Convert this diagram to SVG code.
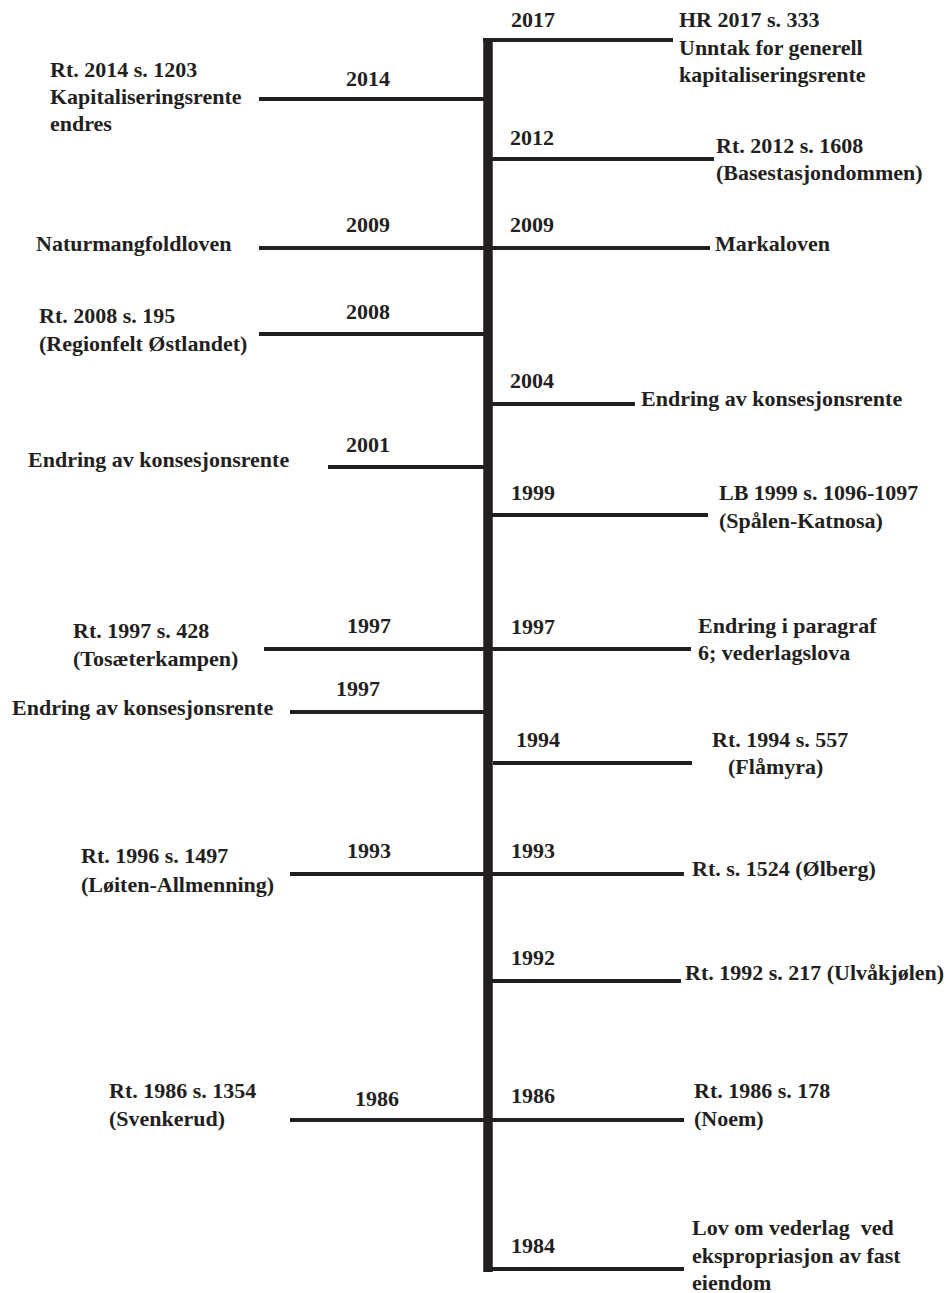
<svg xmlns="http://www.w3.org/2000/svg" width="952" height="1293" viewBox="0 0 952 1293">
<style>
text{font-family:"Liberation Serif","Times New Roman",serif;font-weight:bold;font-size:22px;fill:#231f20}
.h{stroke:#231f20;stroke-width:4;fill:none}
.spine{stroke:#231f20;stroke-width:9.5;fill:none}
</style>
<rect width="952" height="1293" fill="#fff"/>
<g id="connectors">
<line class="spine" x1="488" y1="38" x2="488" y2="1272"/>
<line class="h" x1="483" y1="40" x2="673" y2="40"/>
<line class="h" x1="259" y1="99" x2="488" y2="99"/>
<line class="h" x1="488" y1="159" x2="714" y2="159"/>
<line class="h" x1="259" y1="248" x2="710" y2="248"/>
<line class="h" x1="259" y1="334" x2="488" y2="334"/>
<line class="h" x1="488" y1="404" x2="635" y2="404"/>
<line class="h" x1="328" y1="467" x2="488" y2="467"/>
<line class="h" x1="488" y1="515" x2="708" y2="515"/>
<line class="h" x1="264" y1="649" x2="691" y2="649"/>
<line class="h" x1="290" y1="712" x2="488" y2="712"/>
<line class="h" x1="493" y1="763" x2="692" y2="763"/>
<line class="h" x1="290" y1="874" x2="684" y2="874"/>
<line class="h" x1="488" y1="981" x2="681" y2="981"/>
<line class="h" x1="290" y1="1120" x2="684" y2="1120"/>
<line class="h" x1="488" y1="1269" x2="684" y2="1269"/>
</g>
<g id="e2017"><text x="511" y="27">2017</text><text x="679" y="27">HR 2017 s. 333</text><text x="679" y="55">Unntak for generell</text><text x="679" y="82">kapitaliseringsrente</text></g>
<g id="e2014"><text x="346" y="86">2014</text><text x="50" y="77">Rt. 2014 s. 1203</text><text x="50" y="104">Kapitaliseringsrente</text><text x="50" y="131">endres</text></g>
<g id="e2012"><text x="510" y="145">2012</text><text x="716" y="153">Rt. 2012 s. 1608</text><text x="716" y="180">(Basestasjondommen)</text></g>
<g id="e2009a"><text x="346" y="232">2009</text><text x="36" y="251">Naturmangfoldloven</text></g>
<g id="e2009b"><text x="510" y="232">2009</text><text x="715" y="251">Markaloven</text></g>
<g id="e2008"><text x="346" y="319">2008</text><text x="39" y="323">Rt. 2008 s. 195</text><text x="39" y="351">(Regionfelt Østlandet)</text></g>
<g id="e2004"><text x="510" y="388">2004</text><text x="641" y="406">Endring av konsesjonsrente</text></g>
<g id="e2001"><text x="346" y="452">2001</text><text x="28" y="467">Endring av konsesjonsrente</text></g>
<g id="e1999"><text x="511" y="500">1999</text><text x="719" y="500">LB 1999 s. 1096-1097</text><text x="719" y="528">(Spålen-Katnosa)</text></g>
<g id="e1997a"><text x="347" y="633">1997</text><text x="73" y="638">Rt. 1997 s. 428</text><text x="73" y="666">(Tosæterkampen)</text></g>
<g id="e1997b"><text x="511" y="634">1997</text><text x="698" y="633">Endring i paragraf</text><text x="698" y="660">6; vederlagslova</text></g>
<g id="e1997c"><text x="336" y="696">1997</text><text x="12" y="715">Endring av konsesjonsrente</text></g>
<g id="e1994"><text x="516" y="747">1994</text><text x="712" y="747">Rt. 1994 s. 557</text><text x="728" y="774">(Flåmyra)</text></g>
<g id="e1993a"><text x="347" y="858">1993</text><text x="81" y="863">Rt. 1996 s. 1497</text><text x="81" y="892">(Løiten-Allmenning)</text></g>
<g id="e1993b"><text x="511" y="858">1993</text><text x="692" y="876">Rt. s. 1524 (Ølberg)</text></g>
<g id="e1992"><text x="511" y="965">1992</text><text x="685" y="980">Rt. 1992 s. 217 (Ulvåkjølen)</text></g>
<g id="e1986a"><text x="355" y="1106">1986</text><text x="109" y="1098">Rt. 1986 s. 1354</text><text x="109" y="1126">(Svenkerud)</text></g>
<g id="e1986b"><text x="511" y="1103">1986</text><text x="694" y="1098">Rt. 1986 s. 178</text><text x="694" y="1126">(Noem)</text></g>
<g id="e1984"><text x="511" y="1253">1984</text><text x="692" y="1235" xml:space="preserve" style="white-space:pre">Lov om vederlag  ved</text><text x="692" y="1263">ekspropriasjon av fast</text><text x="692" y="1290">eiendom</text></g>
</svg>
